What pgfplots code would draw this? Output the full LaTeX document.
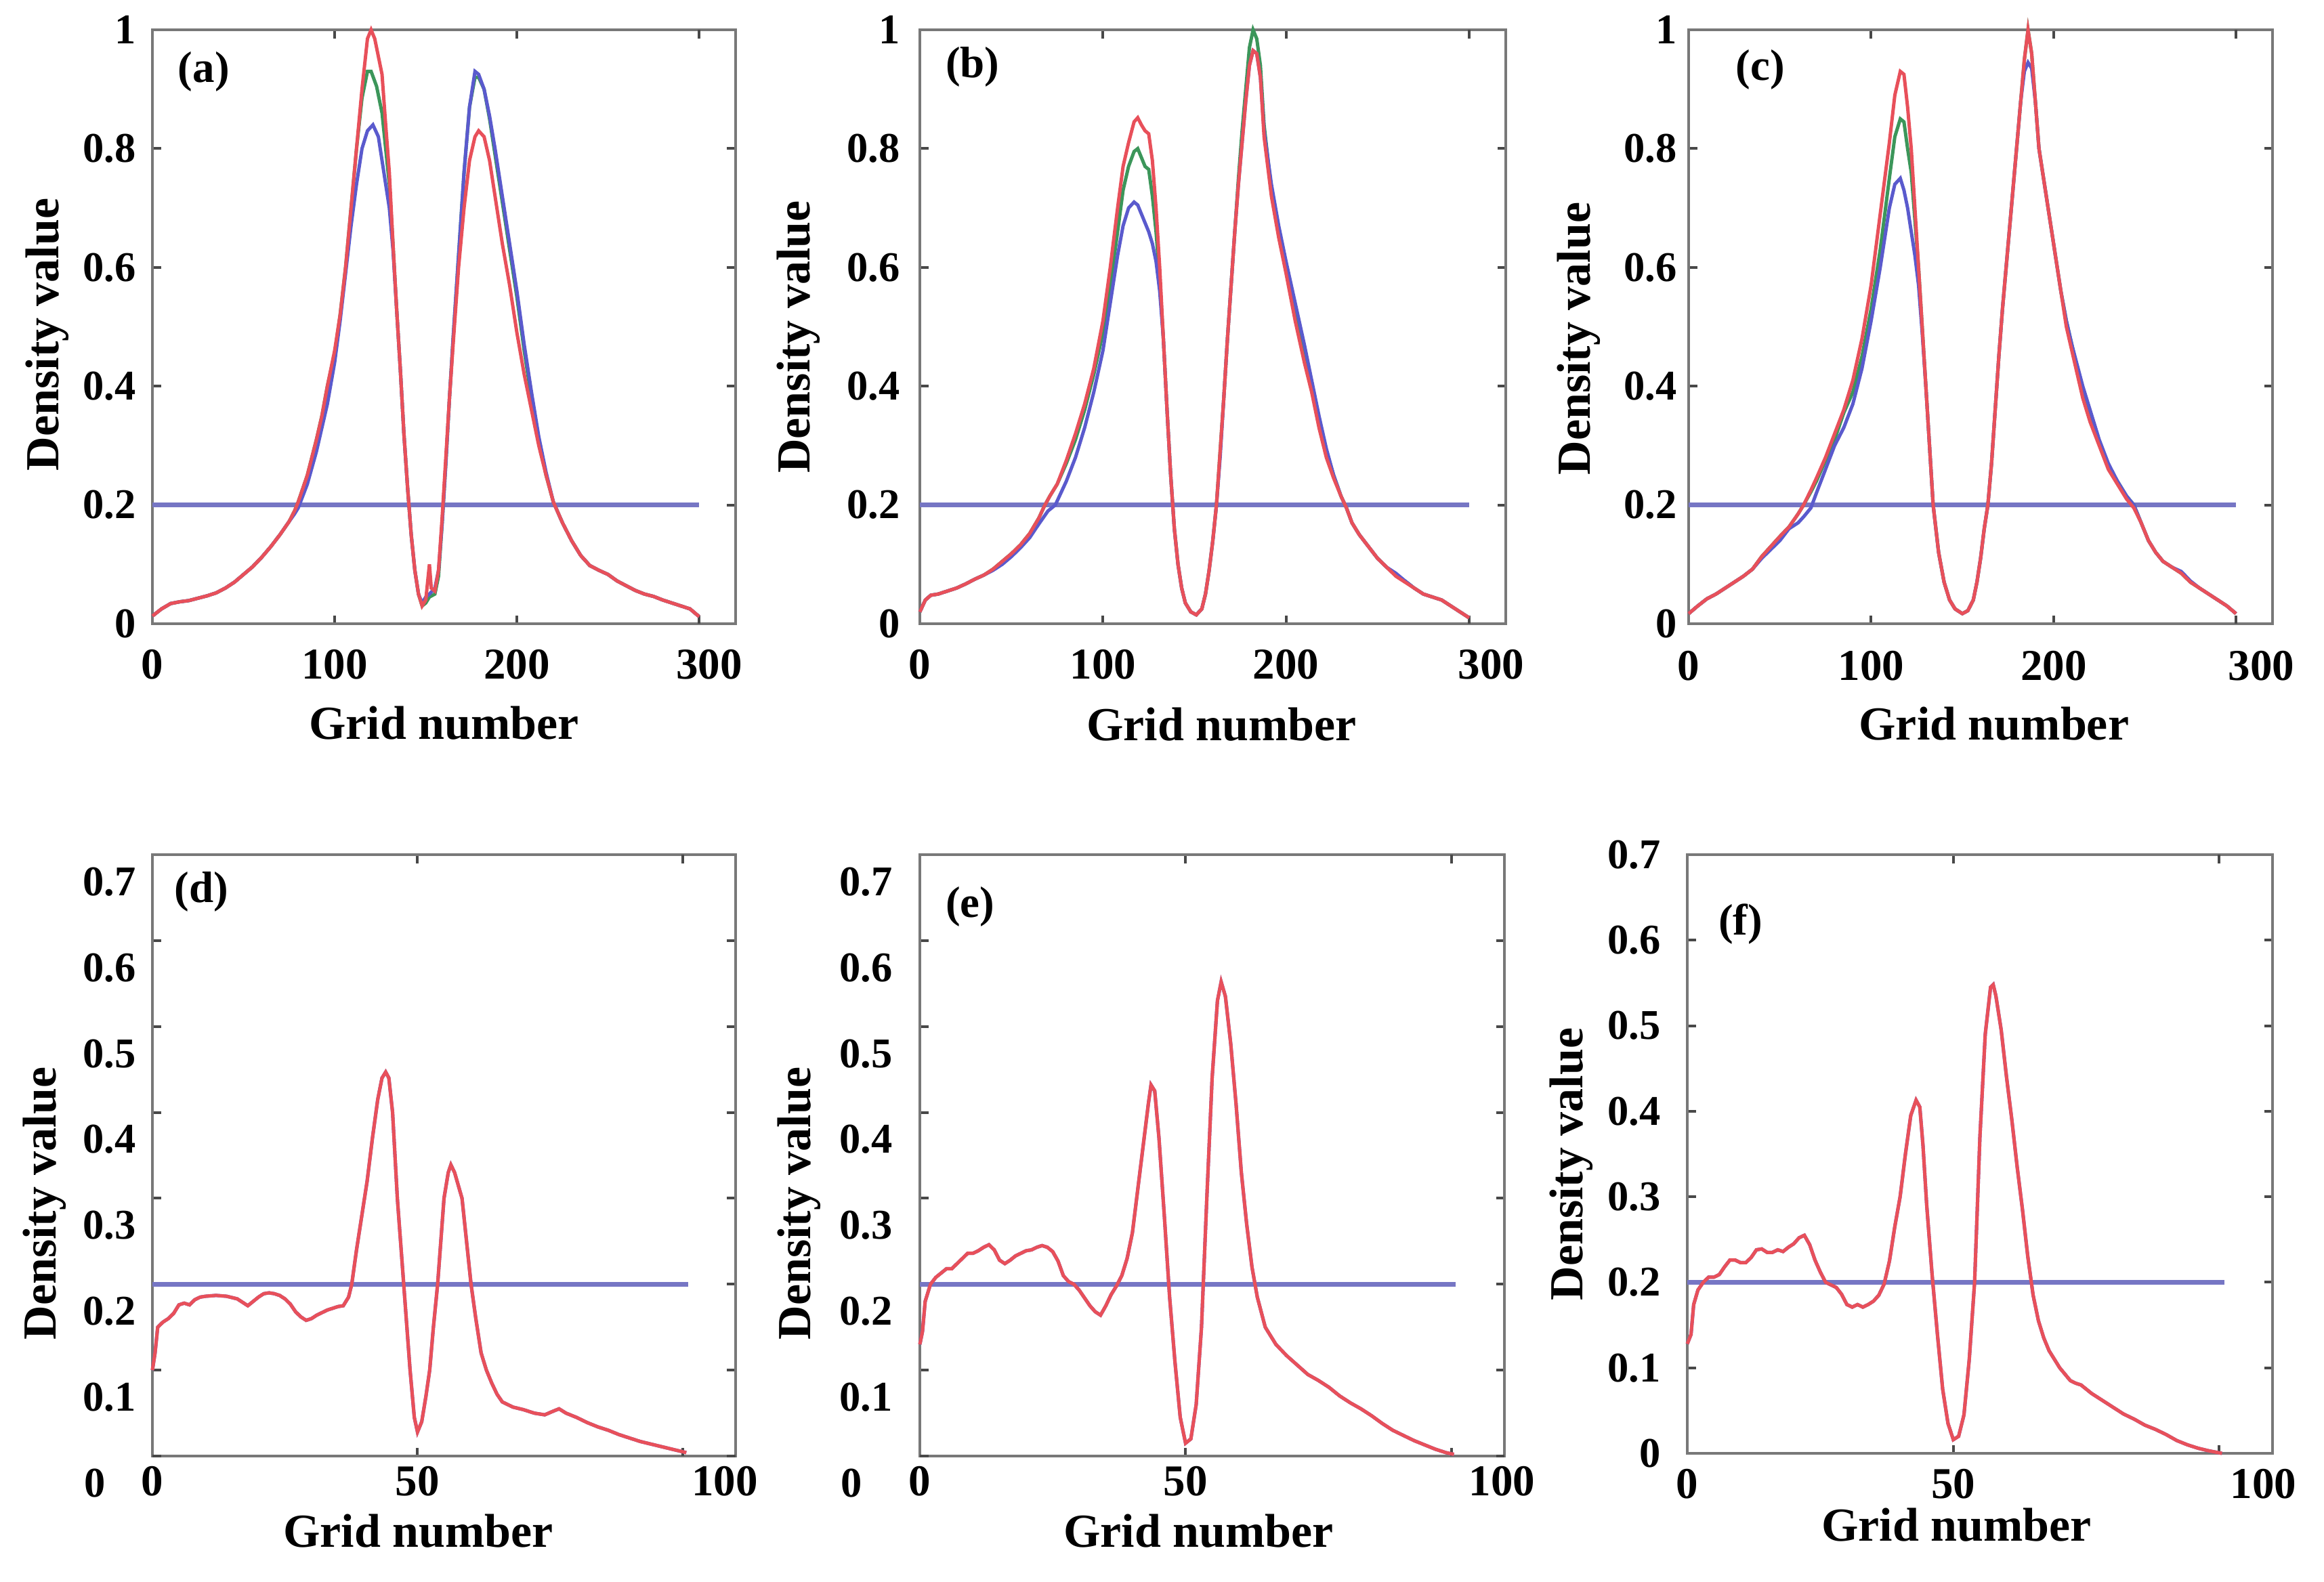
\documentclass[border=0pt]{standalone}
\usepackage{fontspec}
\setmainfont{Liberation Serif}
\usepackage{pgfplots}
\usepackage{pgfplotstable}
\pgfplotsset{compat=1.18}

\definecolor{cr}{RGB}{232,80,90}
\definecolor{cg}{RGB}{60,150,90}
\definecolor{cb}{RGB}{90,90,205}
\definecolor{ch}{RGB}{118,118,196}
\definecolor{cax}{RGB}{120,120,120}

\pgfplotstableread{
x y
0 0.1
0.5 0.12
1 0.15
2 0.156
3 0.16
4 0.166
5 0.176
6 0.178
7 0.176
8 0.182
9 0.185
10 0.186
12 0.187
14 0.186
16 0.183
17 0.179
18 0.175
19 0.18
20 0.185
21 0.189
22 0.19
23 0.189
24 0.187
25 0.183
26 0.177
27 0.168
28 0.162
29 0.158
30 0.16
31 0.164
32 0.167
33 0.17
34 0.172
35 0.174
36 0.175
37 0.185
37.6 0.2
38.5 0.24
39.5 0.28
40.5 0.32
41.5 0.37
42.5 0.415
43.3 0.44
44 0.447
44.6 0.44
45.3 0.4
46.2 0.3
47.4 0.2
48.6 0.1
49.4 0.045
50 0.028
50.8 0.04
51.6 0.07
52.3 0.1
53 0.15
53.8 0.2
55 0.3
55.8 0.33
56.3 0.339
57 0.33
58.4 0.3
60.1 0.2
61 0.16
62 0.12
63 0.1
64 0.085
65 0.072
66 0.063
68 0.057
70 0.054
72 0.05
74 0.048
75.5 0.052
76.7 0.055
78 0.05
80 0.045
82 0.039
84 0.034
86 0.03
88 0.025
90 0.021
92 0.017
94 0.014
96 0.011
98 0.008
100.7 0.004
}\dataD

\pgfplotstableread{
x y
0 0.13
0.5 0.145
1 0.18
2 0.2
3 0.208
4 0.213
5 0.218
6 0.218
7 0.224
8 0.23
9 0.236
10 0.236
11 0.239
12 0.243
13 0.246
14 0.24
15 0.228
16 0.224
17 0.228
18 0.233
19 0.236
20 0.239
21 0.24
22 0.243
23 0.245
24 0.243
25 0.238
26 0.227
27 0.21
28 0.203
29 0.2
30 0.193
31 0.184
32 0.175
33 0.168
34 0.164
35 0.175
36 0.188
37 0.198
38 0.21
39 0.23
40 0.26
41 0.31
42 0.36
43 0.41
43.5 0.432
44.2 0.425
45 0.37
46 0.28
47 0.185
48 0.11
49 0.045
50 0.015
51 0.02
52 0.06
53 0.15
54 0.3
55 0.44
56 0.53
56.7 0.552
57.5 0.535
58.5 0.48
59.5 0.41
60.5 0.33
61.5 0.27
62.5 0.22
63.5 0.185
65 0.15
67 0.13
69 0.117
71 0.106
73 0.095
75 0.088
77 0.08
79 0.07
81 0.062
83 0.055
85 0.047
87 0.038
89 0.03
91 0.024
93 0.018
95 0.013
97 0.008
99 0.004
100.5 0.002
}\dataE

\pgfplotstableread{
x y
0 0.128
0.7 0.139
1.2 0.174
2 0.191
3 0.2
4 0.206
5 0.206
6 0.209
7 0.218
8 0.226
9 0.226
10 0.223
11 0.223
12 0.229
13 0.238
14 0.239
15 0.235
16 0.235
17 0.238
18 0.236
19 0.241
20 0.245
21 0.252
22 0.255
23 0.244
24 0.226
25 0.212
26 0.2
27 0.197
28 0.194
29 0.186
30 0.174
31 0.171
32 0.174
33 0.171
34 0.174
35 0.178
36 0.185
37 0.198
38 0.225
39 0.265
40 0.3
41 0.35
42 0.395
43 0.413
43.7 0.405
44.3 0.36
45 0.29
46 0.21
47 0.14
48 0.075
49 0.035
50 0.016
51 0.02
52 0.045
53 0.11
54 0.2
55 0.37
56 0.49
57 0.545
57.5 0.548
58 0.535
59 0.495
60 0.44
61 0.39
62 0.335
63 0.285
64 0.23
65 0.185
66 0.155
67 0.135
68 0.12
70 0.1
72 0.085
73 0.082
74 0.08
76 0.07
78 0.062
80 0.054
82 0.046
84 0.04
86 0.033
88 0.028
90 0.022
92 0.015
94 0.01
96 0.006
98 0.003
100.5 0.0
}\dataF

\tikzset{plab/.style={font=\fontsize{13}{13}\selectfont\bfseries}}

\pgfplotsset{
  panel/.style={
    scale only axis,
    axis line style={cax, line width=0.8pt},
    tick style={cax!60!black, line width=0.8pt},
    major tick length=2.5pt,
    tick align=inside,
    /pgf/number format/assume math mode=true,
    xticklabel style={font=\fontsize{13}{13}\selectfont\bfseries},
    yticklabel style={font=\fontsize{12.5}{12.5}\selectfont\bfseries},
    label style={font=\fontsize{14}{14}\selectfont\bfseries},
    xlabel={Grid number},
    ylabel={Density value},
    clip=false,
  },
  toppanel/.style={panel, xmin=0, xmax=320, ymin=0, ymax=1,
    xtick={0,100,200}, extra x ticks={300}, ytick={0,0.2,0.4,0.6,0.8,1}},
  botpanel/.style={panel, xmin=0, xmax=110, ymin=0, ymax=0.7,
    xtick={0,50}, extra x ticks={100}, ytick={0,0.1,0.2,0.3,0.4,0.5,0.6,0.7}},
  rline/.style={cr, line width=1pt},
  gline/.style={cg, line width=1pt},
  bline/.style={cb, line width=1pt},
  hline/.style={ch, line width=1.5pt},
}

\begin{document}
\begin{tikzpicture}
% (a)
\begin{axis}[toppanel, at={(45pt,-184.2pt)}, anchor=south west, width=172.2pt, height=175.4pt,
  yticklabel style={xshift=-1.4pt}, xticklabel style={yshift=-4.1pt},
  extra x tick style={xticklabel style={xshift=3pt}},
  xlabel style={at={(axis description cs:0.5,-0.1675)}, anchor=center},
  ylabel style={at={(axis description cs:-0.18,0.487)}, anchor=center}]
\addplot[hline] coordinates {(0,0.2) (300,0.2)};
\addplot[gline] coordinates {(0,0.013)(5,0.025)(10,0.034)(15,0.037)(20,0.039)(25,0.043)(30,0.047)(35,0.052)(40,0.06)(45,0.07)(50,0.083)(55,0.096)(60,0.112)(65,0.13)(70,0.15)(75,0.172)(78,0.19)(80,0.205)(85,0.25)(90,0.31)(93,0.35)(96,0.40)(100,0.455)(103,0.52)(106,0.6)(109,0.7)(112,0.8)(115,0.885)(118,0.93)(120,0.93)(123,0.905)(126,0.86)(128,0.8)(130,0.74)(132,0.64)(134,0.53)(136,0.43)(138,0.32)(140,0.23)(142,0.15)(144,0.09)(146,0.05)(148,0.03)(150,0.035)(152,0.045)(155,0.05)(157,0.08)(159,0.17)(161,0.27)(163,0.38)(165,0.48)(168,0.62)(171,0.76)(174,0.87)(177,0.92)(179,0.92)(182,0.9)(185,0.85)(188,0.79)(192,0.71)(196,0.63)(200,0.55)(204,0.46)(208,0.38)(212,0.31)(216,0.25)(220,0.205)(225,0.17)(230,0.14)(235,0.115)(240,0.098)(245,0.09)(250,0.083)(255,0.072)(260,0.064)(265,0.056)(270,0.05)(275,0.046)(280,0.04)(285,0.035)(290,0.03)(295,0.025)(300,0.012)};
\addplot[bline] coordinates {(0,0.013)(5,0.025)(10,0.034)(15,0.037)(20,0.039)(25,0.043)(30,0.047)(35,0.052)(40,0.06)(45,0.07)(50,0.083)(55,0.096)(60,0.112)(65,0.13)(70,0.15)(75,0.172)(78,0.185)(80,0.195)(85,0.235)(90,0.29)(93,0.33)(96,0.37)(100,0.44)(103,0.51)(106,0.59)(109,0.67)(112,0.74)(115,0.8)(118,0.83)(121,0.84)(124,0.82)(126,0.78)(128,0.74)(130,0.70)(132,0.63)(134,0.53)(136,0.43)(138,0.32)(140,0.23)(142,0.15)(144,0.09)(146,0.05)(148,0.035)(150,0.045)(152,0.05)(155,0.06)(157,0.09)(159,0.17)(161,0.27)(163,0.38)(165,0.48)(168,0.62)(171,0.76)(174,0.87)(177,0.93)(179,0.925)(182,0.9)(185,0.855)(188,0.8)(192,0.72)(196,0.64)(200,0.56)(204,0.47)(208,0.39)(212,0.315)(216,0.255)(220,0.205)(225,0.17)(230,0.14)(235,0.115)(240,0.098)(245,0.09)(250,0.083)(255,0.072)(260,0.064)(265,0.056)(270,0.05)(275,0.046)(280,0.04)(285,0.035)(290,0.03)(295,0.025)(300,0.012)};
\addplot[rline] coordinates {(0,0.013)(5,0.025)(10,0.034)(15,0.037)(20,0.039)(25,0.043)(30,0.047)(35,0.052)(40,0.06)(45,0.07)(50,0.083)(55,0.096)(60,0.112)(65,0.13)(70,0.15)(75,0.172)(78,0.19)(80,0.205)(85,0.25)(90,0.31)(93,0.35)(96,0.40)(100,0.46)(103,0.52)(106,0.6)(109,0.7)(112,0.8)(115,0.9)(118,0.985)(120,1.0)(122,0.985)(124,0.955)(126,0.925)(128,0.84)(130,0.76)(132,0.64)(134,0.53)(136,0.43)(138,0.32)(140,0.23)(142,0.15)(144,0.09)(146,0.05)(148,0.03)(150,0.04)(151,0.07)(152,0.1)(153,0.06)(155,0.055)(157,0.09)(159,0.18)(161,0.28)(163,0.38)(165,0.47)(168,0.6)(171,0.7)(174,0.78)(177,0.82)(179,0.83)(182,0.82)(185,0.78)(188,0.72)(192,0.64)(196,0.57)(200,0.49)(204,0.42)(208,0.36)(212,0.30)(216,0.25)(220,0.205)(225,0.17)(230,0.14)(235,0.115)(240,0.098)(245,0.09)(250,0.083)(255,0.072)(260,0.064)(265,0.056)(270,0.05)(275,0.046)(280,0.04)(285,0.035)(290,0.03)(295,0.025)(300,0.012)};
\node[plab] at (axis description cs:0.088,0.929) {(a)};
\end{axis}

% (b)
\begin{axis}[toppanel, at={(271.6pt,-184.2pt)}, anchor=south west, width=173pt, height=175.4pt,
  yticklabel style={xshift=-2.4pt}, xticklabel style={yshift=-4.1pt},
  extra x tick style={xticklabel style={xshift=6.5pt}},
  xlabel style={at={(axis description cs:0.515,-0.169)}, anchor=center},
  ylabel style={at={(axis description cs:-0.207,0.483)}, anchor=center}]
\addplot[hline] coordinates {(0,0.2) (300,0.2)};
\addplot[gline] coordinates {(0,0.02)(3,0.04)(6,0.048)(10,0.05)(15,0.055)(20,0.06)(25,0.067)(30,0.075)(35,0.082)(40,0.092)(45,0.105)(50,0.118)(55,0.133)(60,0.152)(65,0.178)(68,0.198)(71,0.215)(75,0.235)(80,0.27)(85,0.31)(90,0.36)(95,0.42)(100,0.49)(104,0.57)(108,0.66)(111,0.73)(114,0.77)(117,0.795)(119,0.8)(121,0.785)(123,0.77)(125,0.765)(127,0.72)(129,0.66)(131,0.58)(133,0.48)(135,0.36)(137,0.25)(139,0.16)(141,0.1)(143,0.06)(145,0.035)(148,0.02)(151,0.015)(154,0.025)(156,0.05)(158,0.09)(160,0.14)(162,0.2)(164,0.29)(166,0.38)(168,0.48)(170,0.57)(172,0.66)(174,0.75)(176,0.83)(178,0.9)(180,0.97)(182,1.0)(184,0.985)(186,0.94)(188,0.84)(192,0.73)(196,0.66)(200,0.6)(205,0.53)(210,0.46)(214,0.4)(218,0.34)(222,0.29)(226,0.25)(230,0.215)(233,0.195)(236,0.17)(240,0.15)(245,0.13)(250,0.11)(255,0.095)(260,0.082)(265,0.072)(270,0.06)(275,0.05)(280,0.045)(285,0.04)(290,0.03)(295,0.02)(300,0.01)};
\addplot[bline] coordinates {(0,0.02)(3,0.04)(6,0.048)(10,0.05)(15,0.055)(20,0.06)(25,0.067)(30,0.075)(35,0.082)(40,0.09)(45,0.1)(50,0.113)(55,0.128)(60,0.145)(65,0.168)(70,0.19)(74,0.2)(80,0.24)(85,0.28)(90,0.33)(95,0.39)(100,0.46)(104,0.54)(108,0.62)(111,0.67)(114,0.7)(117,0.71)(119,0.705)(121,0.69)(123,0.675)(125,0.66)(127,0.64)(129,0.61)(131,0.56)(133,0.48)(135,0.36)(137,0.25)(139,0.16)(141,0.1)(143,0.06)(145,0.035)(148,0.02)(151,0.015)(154,0.025)(156,0.05)(158,0.09)(160,0.14)(162,0.2)(164,0.28)(166,0.38)(168,0.48)(170,0.57)(172,0.66)(174,0.74)(176,0.81)(178,0.88)(180,0.94)(182,0.965)(184,0.96)(186,0.92)(188,0.83)(192,0.74)(196,0.67)(200,0.61)(205,0.54)(210,0.47)(214,0.41)(218,0.35)(222,0.295)(226,0.25)(230,0.215)(233,0.195)(236,0.17)(240,0.15)(245,0.13)(250,0.11)(255,0.095)(260,0.085)(265,0.072)(270,0.06)(275,0.05)(280,0.045)(285,0.04)(290,0.03)(295,0.02)(300,0.01)};
\addplot[rline] coordinates {(0,0.02)(3,0.04)(6,0.048)(10,0.05)(15,0.055)(20,0.06)(25,0.067)(30,0.075)(35,0.082)(40,0.092)(45,0.105)(50,0.118)(55,0.133)(60,0.152)(65,0.178)(68,0.198)(71,0.215)(75,0.235)(80,0.275)(85,0.32)(90,0.37)(95,0.43)(100,0.51)(104,0.6)(108,0.7)(111,0.77)(114,0.81)(117,0.845)(119,0.852)(121,0.84)(123,0.83)(125,0.825)(127,0.78)(129,0.7)(131,0.6)(133,0.48)(135,0.36)(137,0.25)(139,0.16)(141,0.1)(143,0.06)(145,0.035)(148,0.02)(151,0.015)(154,0.025)(156,0.05)(158,0.09)(160,0.14)(162,0.2)(164,0.29)(166,0.38)(168,0.48)(170,0.57)(172,0.66)(174,0.74)(176,0.81)(178,0.88)(180,0.94)(182,0.965)(184,0.96)(186,0.92)(188,0.82)(192,0.72)(196,0.65)(200,0.59)(205,0.51)(210,0.44)(214,0.39)(218,0.33)(222,0.28)(226,0.245)(230,0.215)(233,0.195)(236,0.17)(240,0.15)(245,0.13)(250,0.11)(255,0.095)(260,0.08)(265,0.07)(270,0.06)(275,0.05)(280,0.045)(285,0.04)(290,0.03)(295,0.02)(300,0.01)};
\node[plab] at (axis description cs:0.09,0.937) {(b)};
\end{axis}

% (c)
\begin{axis}[toppanel, at={(498.6pt,-184.2pt)}, anchor=south west, width=172.4pt, height=175.4pt,
  yticklabel style={xshift=0pt}, xticklabel style={yshift=-4.5pt},
  extra x tick style={xticklabel style={xshift=7.5pt}},
  xlabel style={at={(axis description cs:0.523,-0.168)}, anchor=center},
  ylabel style={at={(axis description cs:-0.188,0.48)}, anchor=center}]
\addplot[hline] coordinates {(0,0.2) (300,0.2)};
\addplot[gline] coordinates {(0,0.017)(5,0.03)(10,0.042)(15,0.05)(20,0.06)(25,0.07)(30,0.08)(35,0.092)(40,0.113)(45,0.13)(50,0.147)(55,0.163)(60,0.185)(63,0.2)(67,0.222)(70,0.24)(75,0.275)(80,0.31)(85,0.355)(90,0.39)(95,0.45)(100,0.53)(105,0.63)(110,0.75)(113,0.82)(116,0.85)(118,0.845)(120,0.8)(122,0.76)(124,0.68)(126,0.6)(128,0.5)(130,0.4)(132,0.3)(134,0.2)(137,0.12)(140,0.07)(143,0.04)(146,0.025)(150,0.017)(153,0.022)(156,0.04)(158,0.07)(160,0.11)(162,0.16)(164,0.2)(166,0.27)(168,0.36)(170,0.45)(172,0.53)(174,0.6)(176,0.67)(178,0.74)(180,0.81)(182,0.88)(184,0.95)(186,1.0)(188,0.96)(190,0.88)(192,0.80)(195,0.74)(198,0.68)(201,0.62)(204,0.56)(207,0.51)(210,0.47)(213,0.43)(216,0.39)(220,0.35)(225,0.305)(230,0.265)(235,0.24)(240,0.215)(244,0.2)(248,0.17)(252,0.14)(256,0.12)(260,0.105)(265,0.095)(270,0.085)(275,0.07)(280,0.06)(285,0.05)(290,0.04)(295,0.03)(300,0.017)};
\addplot[bline] coordinates {(0,0.017)(5,0.03)(10,0.042)(15,0.05)(20,0.06)(25,0.07)(30,0.08)(35,0.092)(40,0.11)(45,0.125)(50,0.14)(55,0.16)(60,0.17)(63,0.18)(67,0.195)(70,0.22)(75,0.26)(80,0.3)(85,0.33)(90,0.37)(95,0.43)(100,0.51)(105,0.6)(110,0.7)(113,0.74)(116,0.75)(118,0.73)(120,0.7)(122,0.66)(124,0.62)(126,0.57)(128,0.49)(130,0.4)(132,0.3)(134,0.2)(137,0.12)(140,0.07)(143,0.04)(146,0.025)(150,0.017)(153,0.022)(156,0.04)(158,0.07)(160,0.11)(162,0.16)(164,0.2)(166,0.27)(168,0.36)(170,0.45)(172,0.53)(174,0.6)(176,0.67)(178,0.74)(180,0.81)(182,0.88)(184,0.93)(186,0.945)(188,0.935)(190,0.88)(192,0.80)(195,0.74)(198,0.68)(201,0.62)(204,0.56)(207,0.51)(210,0.47)(213,0.435)(216,0.4)(220,0.36)(225,0.31)(230,0.27)(235,0.24)(240,0.215)(244,0.2)(248,0.17)(252,0.14)(256,0.12)(260,0.105)(265,0.095)(270,0.088)(275,0.072)(280,0.06)(285,0.05)(290,0.04)(295,0.03)(300,0.017)};
\addplot[rline] coordinates {(0,0.017)(5,0.03)(10,0.042)(15,0.05)(20,0.06)(25,0.07)(30,0.08)(35,0.092)(40,0.113)(45,0.13)(50,0.147)(55,0.163)(60,0.185)(63,0.2)(67,0.225)(70,0.245)(75,0.28)(80,0.32)(85,0.36)(90,0.41)(95,0.48)(100,0.57)(105,0.69)(110,0.81)(113,0.89)(116,0.93)(118,0.925)(120,0.87)(122,0.8)(124,0.7)(126,0.6)(128,0.5)(130,0.4)(132,0.3)(134,0.2)(137,0.12)(140,0.07)(143,0.04)(146,0.025)(150,0.017)(153,0.022)(156,0.04)(158,0.07)(160,0.11)(162,0.16)(164,0.2)(166,0.27)(168,0.36)(170,0.45)(172,0.53)(174,0.6)(176,0.67)(178,0.74)(180,0.81)(182,0.88)(184,0.95)(186,1.0)(188,0.96)(190,0.88)(192,0.80)(195,0.74)(198,0.68)(201,0.62)(204,0.56)(207,0.5)(210,0.46)(213,0.42)(216,0.38)(220,0.34)(225,0.3)(230,0.26)(235,0.235)(240,0.21)(244,0.195)(248,0.17)(252,0.14)(256,0.12)(260,0.105)(265,0.095)(270,0.085)(275,0.07)(280,0.06)(285,0.05)(290,0.04)(295,0.03)(300,0.017)};
\node[plab] at (axis description cs:0.123,0.933) {(c)};
\end{axis}

% (d)
\begin{axis}[botpanel, at={(45pt,-430pt)}, anchor=south west, width=172.2pt, height=177.6pt,
  ytick={0.1,0.2,0.3,0.4,0.5,0.6,0.7}, extra y ticks={0},
  extra y tick style={yticklabel style={xshift=-9pt}},
  yticklabel style={xshift=-1.4pt, yshift=-8pt}, xticklabel style={yshift=0.5pt},
  extra x tick style={xticklabel style={xshift=12.5pt}},
  xlabel style={at={(axis description cs:0.456,-0.124)}, anchor=center},
  ylabel style={at={(axis description cs:-0.185,0.42)}, anchor=center}]
\addplot[hline] coordinates {(0,0.2) (101,0.2)};
\addplot[bline] table[x=x,y=y] {\dataD};
\addplot[rline] table[x=x,y=y] {\dataD};
\node[plab] at (axis description cs:0.084,0.938) {(d)};
\end{axis}

% (e)
\begin{axis}[botpanel, at={(271.6pt,-430pt)}, anchor=south west, width=172.6pt, height=177.6pt,
  ytick={0.1,0.2,0.3,0.4,0.5,0.6,0.7}, extra y ticks={0},
  extra y tick style={yticklabel style={xshift=-9pt}},
  yticklabel style={xshift=-4.6pt, yshift=-8pt}, xticklabel style={yshift=0.5pt},
  extra x tick style={xticklabel style={xshift=15pt}},
  xlabel style={at={(axis description cs:0.477,-0.124)}, anchor=center},
  ylabel style={at={(axis description cs:-0.207,0.42)}, anchor=center}]
\addplot[hline] coordinates {(0,0.2) (100.8,0.2)};
\addplot[bline] table[x=x,y=y] {\dataE};
\addplot[rline] table[x=x,y=y] {\dataE};
\node[plab] at (axis description cs:0.086,0.913) {(e)};
\end{axis}

% (f)
\begin{axis}[botpanel, at={(498.2pt,-429.2pt)}, anchor=south west, width=172.8pt, height=176.8pt,
  yticklabel style={xshift=-4.4pt}, xticklabel style={yshift=-1.1pt},
  extra x tick style={xticklabel style={xshift=13pt}},
  xlabel style={at={(axis description cs:0.46,-0.12)}, anchor=center},
  ylabel style={at={(axis description cs:-0.198,0.483)}, anchor=center}]
\addplot[hline] coordinates {(0,0.2) (101,0.2)};
\addplot[bline] table[x=x,y=y] {\dataF};
\addplot[rline] table[x=x,y=y] {\dataF};
\node[plab] at (axis description cs:0.091,0.884) {(f)};
\end{axis}

\pgfresetboundingbox
\path[use as bounding box] (0,0) rectangle (686.2pt,-467pt);
\end{tikzpicture}
\end{document}
